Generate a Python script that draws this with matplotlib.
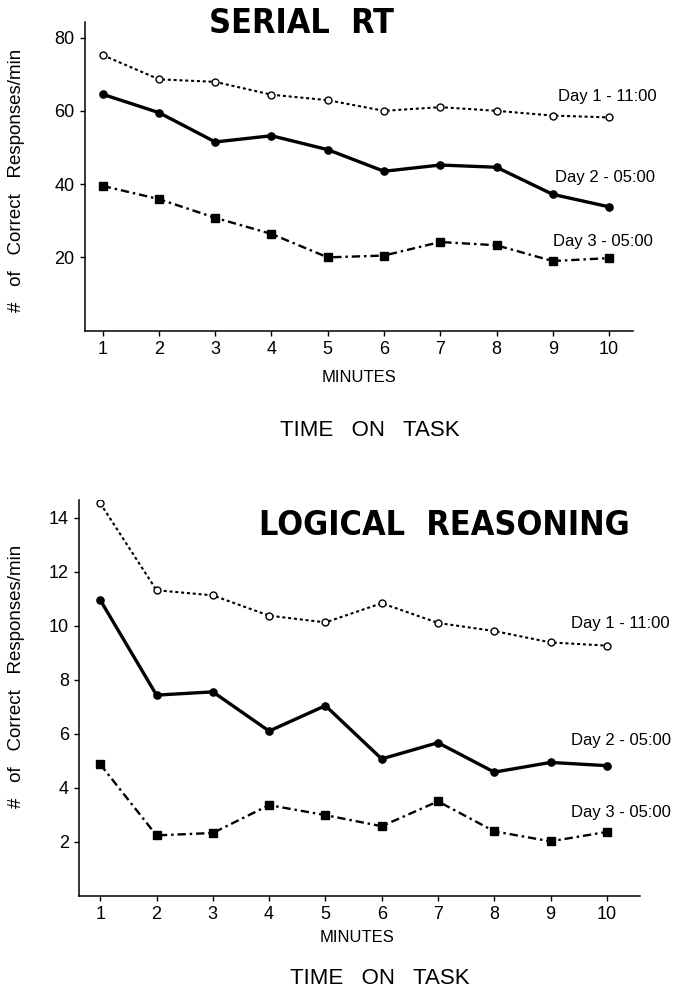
import matplotlib
matplotlib.use('Agg')
import matplotlib.pyplot as plt
from matplotlib import font_manager

plt.rcParams['font.family'] = ['Liberation Sans', 'DejaVu Sans']
plt.rcParams['lines.scale_dashes'] = False

minutes = list(range(1, 11))

# serial RT, correct responses per minute
srt_day1 = [75.2, 68.6, 67.9, 64.4, 62.9, 60.0, 61.0, 60.0, 58.7, 58.2]
srt_day2 = [64.5, 59.5, 51.5, 53.2, 49.4, 43.5, 45.2, 44.6, 37.2, 33.8]
srt_day3 = [39.5, 35.9, 30.8, 26.4, 20.0, 20.5, 24.2, 23.3, 19.0, 19.8]

# logical reasoning
lr_day1 = [14.53, 11.31, 11.12, 10.37, 10.12, 10.83, 10.10, 9.80, 9.38, 9.26]
lr_day2 = [10.95, 7.43, 7.55, 6.10, 7.04, 5.07, 5.67, 4.58, 4.94, 4.82]
lr_day3 = [4.87, 2.24, 2.33, 3.36, 2.99, 2.58, 3.50, 2.39, 2.02, 2.37]

labels = ['Day 1 - 11:00', 'Day 2 - 05:00', 'Day 3 - 05:00']

dotted = (0, (2.2, 2.0))
dashdot = (0, (6.0, 2.8, 1.8, 2.8))

# condensed bold face for the panel titles if one is installed
names = {f.name for f in font_manager.fontManager.ttflist}
title_kw = dict(fontweight='bold', fontsize=25)
if 'Liberation Sans Narrow' in names:
    title_kw['family'] = 'Liberation Sans Narrow'
else:
    title_kw['family'] = 'DejaVu Sans'
    title_kw['fontstretch'] = 'condensed'
    title_kw['fontsize'] = 24.5


def draw(ax, d1, d2, d3):
    ax.plot(minutes, d1, color='black', lw=1.5, linestyle=dotted,
            marker='o', ms=5, mfc='white', mec='black', mew=1.0)
    ax.plot(minutes, d2, color='black', lw=2.4, linestyle='-',
            marker='o', ms=5.2, mfc='black', mec='black')
    ax.plot(minutes, d3, color='black', lw=1.7, linestyle=dashdot,
            marker='s', ms=5.2, mfc='black', mec='black')
    for s in ['top', 'right']:
        ax.spines[s].set_visible(False)
    for s in ['left', 'bottom']:
        ax.spines[s].set_linewidth(1.1)
    ax.tick_params(direction='out', length=3.5, width=1.0, labelsize=13, pad=4)
    ax.set_xticks(minutes)


fig = plt.figure(figsize=(6.89, 9.9), dpi=100)

# top panel: serial RT
ax1 = fig.add_axes([0.123, 0.666, 0.796, 0.312])
draw(ax1, srt_day1, srt_day2, srt_day3)
ax1.set_xlim(0.68, 10.43)
ax1.set_ylim(0, 84.3)
ax1.set_yticks([20, 40, 60, 80])
ax1.text(9.10, 64.0, labels[0], fontsize=12, ha='left', va='center')
ax1.text(9.04, 41.7, labels[1], fontsize=12, ha='left', va='center')
ax1.text(9.00, 24.4, labels[2], fontsize=12, ha='left', va='center')

# bottom panel: logical reasoning
ax2 = fig.add_axes([0.115, 0.095, 0.814, 0.40])
draw(ax2, lr_day1, lr_day2, lr_day3)
ax2.set_xlim(0.627, 10.59)
ax2.set_ylim(0, 14.65)
ax2.set_yticks([2, 4, 6, 8, 10, 12, 14])
ax2.text(9.36, 10.08, labels[0], fontsize=12, ha='left', va='center')
ax2.text(9.36, 5.76, labels[1], fontsize=12, ha='left', va='center')
ax2.text(9.36, 3.07, labels[2], fontsize=12, ha='left', va='center')

fig.text(0.438, 0.976, 'SERIAL  RT', ha='center', va='center', **title_kw)
fig.text(0.645, 0.469, 'LOGICAL  REASONING', ha='center', va='center', **title_kw)

ylab = '#   of   Correct   Responses/min'
fig.text(0.024, 1 - 180 / 990, ylab, rotation=90, fontsize=13.5, ha='center', va='center')
fig.text(0.024, 1 - 676 / 990, ylab, rotation=90, fontsize=13.5, ha='center', va='center')

fig.text(359 / 689, 1 - 378 / 990, 'MINUTES', fontsize=12, ha='center', va='center')
fig.text(357 / 689, 1 - 938 / 990, 'MINUTES', fontsize=12, ha='center', va='center')
fig.text(370 / 689, 1 - 430 / 990, 'TIME   ON   TASK', fontsize=16, ha='center', va='center')
fig.text(380 / 689, 1 - 978 / 990, 'TIME   ON   TASK', fontsize=16, ha='center', va='center')

fig.savefig('out.png', dpi=100)
